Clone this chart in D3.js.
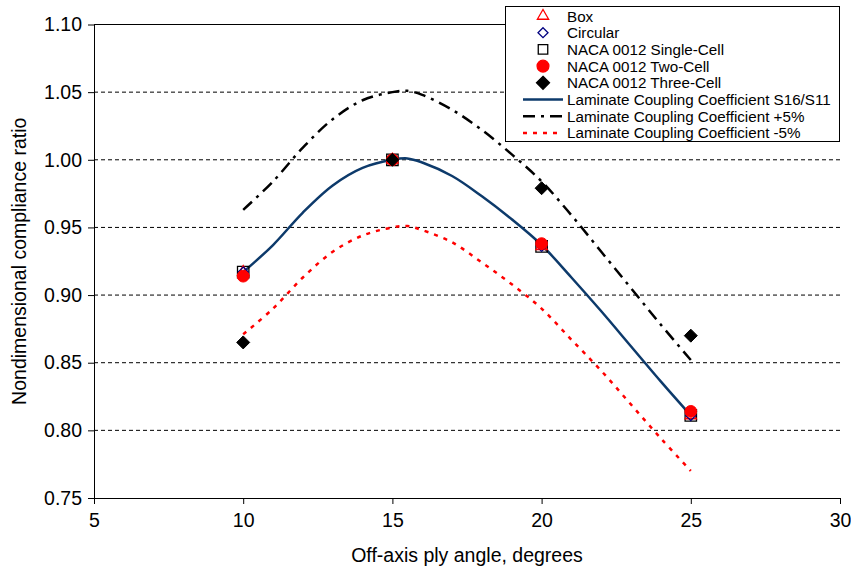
<!DOCTYPE html>
<html><head><meta charset="utf-8">
<script src="https://cdn.jsdelivr.net/npm/d3@7"></script>
<style>body{margin:0;background:#fff}svg{display:block;font-family:"Liberation Sans",Arial,sans-serif}</style>
</head><body><svg id="c" width="851" height="573"></svg>
<script>
const xTicks = [5, 10, 15, 20, 25, 30];
const yTicks = [0.75, 0.80, 0.85, 0.90, 0.95, 1.00, 1.05, 1.10];
const angles = [10, 15, 20, 25];
const boxVals = [0.917, 1.000, 0.936, 0.811];
const circVals = [0.917, 1.000, 0.936, 0.811];
const singleVals = [0.917, 1.000, 0.936, 0.811];
const twoVals = [0.914, 1.000, 0.938, 0.814];
const threeVals = [0.865, 1.000, 0.979, 0.870];
const curveX = [10, 11, 12, 13, 14, 15, 15.5, 16, 17, 18, 19, 20, 21, 22, 23, 24, 25];
const coupling = [0.917, 0.937, 0.961, 0.981, 0.994, 1.000, 1.001, 0.998, 0.988, 0.973, 0.956, 0.937, 0.913, 0.888, 0.862, 0.836, 0.811];
const plus5 = [0.963, 0.984, 1.009, 1.030, 1.044, 1.050, 1.051, 1.048, 1.037, 1.022, 1.004, 0.984, 0.959, 0.932, 0.905, 0.878, 0.852];
const minus5 = [0.871, 0.890, 0.913, 0.932, 0.944, 0.950, 0.951, 0.948, 0.939, 0.924, 0.908, 0.890, 0.867, 0.844, 0.819, 0.794, 0.770];
const legendLabels = ["Box", "Circular", "NACA 0012 Single-Cell", "NACA 0012 Two-Cell", "NACA 0012 Three-Cell",
  "Laminate Coupling Coefficient S16/S11", "Laminate Coupling Coefficient +5%", "Laminate Coupling Coefficient -5%"];

const svg = d3.select("#c");
const L = 94, R = 840, T = 24.5, B = 498;
const x = d3.scaleLinear().domain([5, 30]).range([L, R]);
const y = d3.scaleLinear().domain([0.75, 1.10]).range([B, T]);
const navy = "#0d3a6b";

// gridlines
svg.append("g").selectAll("line").data(yTicks.filter(v => v > 0.76 && v < 1.09)).join("line")
  .attr("x1", L).attr("x2", R).attr("y1", d => y(d)).attr("y2", d => y(d))
  .attr("stroke", "#000").attr("stroke-width", 1).attr("stroke-dasharray", "4,3");
svg.append("line").attr("x1", L).attr("x2", R).attr("y1", y(1.10)).attr("y2", y(1.10)).attr("stroke", "#000");

// axes
const xAxis = svg.append("g").attr("transform", `translate(0,${B})`)
  .call(d3.axisBottom(x).tickValues(xTicks).tickFormat(d3.format("d")).tickSize(6).tickSizeOuter(0));
const yAxis = svg.append("g").attr("transform", `translate(${L},0)`)
  .call(d3.axisLeft(y).tickValues(yTicks).tickFormat(d3.format(".2f")).tickSize(6).tickSizeOuter(0));
[xAxis, yAxis].forEach(g => {
  g.selectAll("path,line").attr("stroke", "#000").attr("stroke-width", 1);
  g.selectAll("text").attr("font-size", 19.5).attr("fill", "#000")
    .attr("font-family", "'Liberation Sans',Arial,sans-serif");
});
xAxis.selectAll("text").attr("dy", "1.0em");
yAxis.selectAll("text").attr("x", -12);

svg.append("text").attr("x", 467).attr("y", 562).attr("text-anchor", "middle")
  .attr("font-size", 19.5).text("Off-axis ply angle, degrees");
svg.append("text").attr("transform", `translate(26,${(T + B) / 2}) rotate(-90)`).attr("text-anchor", "middle")
  .attr("font-size", 19.5).text("Nondimensional compliance ratio");

// curves
const line = d3.line().x(d => x(d[0])).y(d => y(d[1])).curve(d3.curveCatmullRom.alpha(0.5));
const mk = arr => curveX.map((v, i) => [v, arr[i]]);
svg.append("path").attr("d", line(mk(plus5))).attr("fill", "none").attr("stroke", "#000")
  .attr("stroke-width", 2.5).attr("stroke-dasharray", "12,6,3,6");
svg.append("path").attr("d", line(mk(minus5))).attr("fill", "none").attr("stroke", "#ff0000")
  .attr("stroke-width", 2.5).attr("stroke-dasharray", "4,6");
svg.append("path").attr("d", line(mk(coupling))).attr("fill", "none").attr("stroke", navy)
  .attr("stroke-width", 2.5);

// markers
const diamond = r => `M0,${-r}L${r},0L0,${r}L${-r},0Z`;
const sym = (type, size) => type === "diamond" ? diamond(size) : d3.symbol().type(type).size(size)();
function drawMarkers(vals, type, size, fill, stroke, sw) {
  svg.append("g").selectAll("path").data(angles.map((a, i) => [a, vals[i]])).join("path")
    .attr("transform", d => `translate(${x(d[0])},${y(d[1])})`)
    .attr("d", sym(type, size)).attr("fill", fill).attr("stroke", stroke).attr("stroke-width", sw);
}
drawMarkers(singleVals, d3.symbolSquare, 130, "none", "#000", 1.3);
drawMarkers(boxVals, d3.symbolTriangle, 55, "none", "#ff0000", 1.3);
drawMarkers(circVals, "diamond", 5, "none", "#000080", 1.3);
drawMarkers(twoVals, d3.symbolCircle, 110, "#ff0000", "#ff0000", 1);
drawMarkers(threeVals, "diamond", 6.5, "#000", "#000", 1);

// legend
const lg = svg.append("g");
lg.append("rect").attr("x", 505.5).attr("y", 6.5).attr("width", 334).attr("height", 135)
  .attr("fill", "#fff").attr("stroke", "#000").attr("stroke-width", 1);
const rows = legendLabels.map((t, i) => ({t, i, cy: 16 + i * 16.7}));
lg.selectAll("text").data(rows).join("text").attr("x", 567).attr("y", d => d.cy + 5.5)
  .attr("font-size", 15.2).attr("fill", "#000").text(d => d.t);
const legSyms = [
  [d3.symbolTriangle, 55, "none", "#ff0000"],
  ["diamond", 5, "none", "#000080"],
  [d3.symbolSquare, 90, "none", "#000"],
  [d3.symbolCircle, 110, "#ff0000", "#ff0000"],
  ["diamond", 6.5, "#000", "#000"]
];
legSyms.forEach((s, i) => {
  lg.append("path").attr("transform", `translate(543,${rows[i].cy})`).attr("d", sym(s[0], s[1]))
    .attr("fill", s[2]).attr("stroke", s[3]).attr("stroke-width", 1.3);
});
const legLines = [[navy, null], ["#000", "12,6,3,6"], ["#ff0000", "4,6"]];
legLines.forEach((s, j) => {
  const cy = rows[5 + j].cy;
  const l = lg.append("line").attr("x1", 523).attr("x2", 563).attr("y1", cy).attr("y2", cy)
    .attr("stroke", s[0]).attr("stroke-width", 2.5);
  if (s[1]) l.attr("stroke-dasharray", s[1]);
});
</script></body></html>
